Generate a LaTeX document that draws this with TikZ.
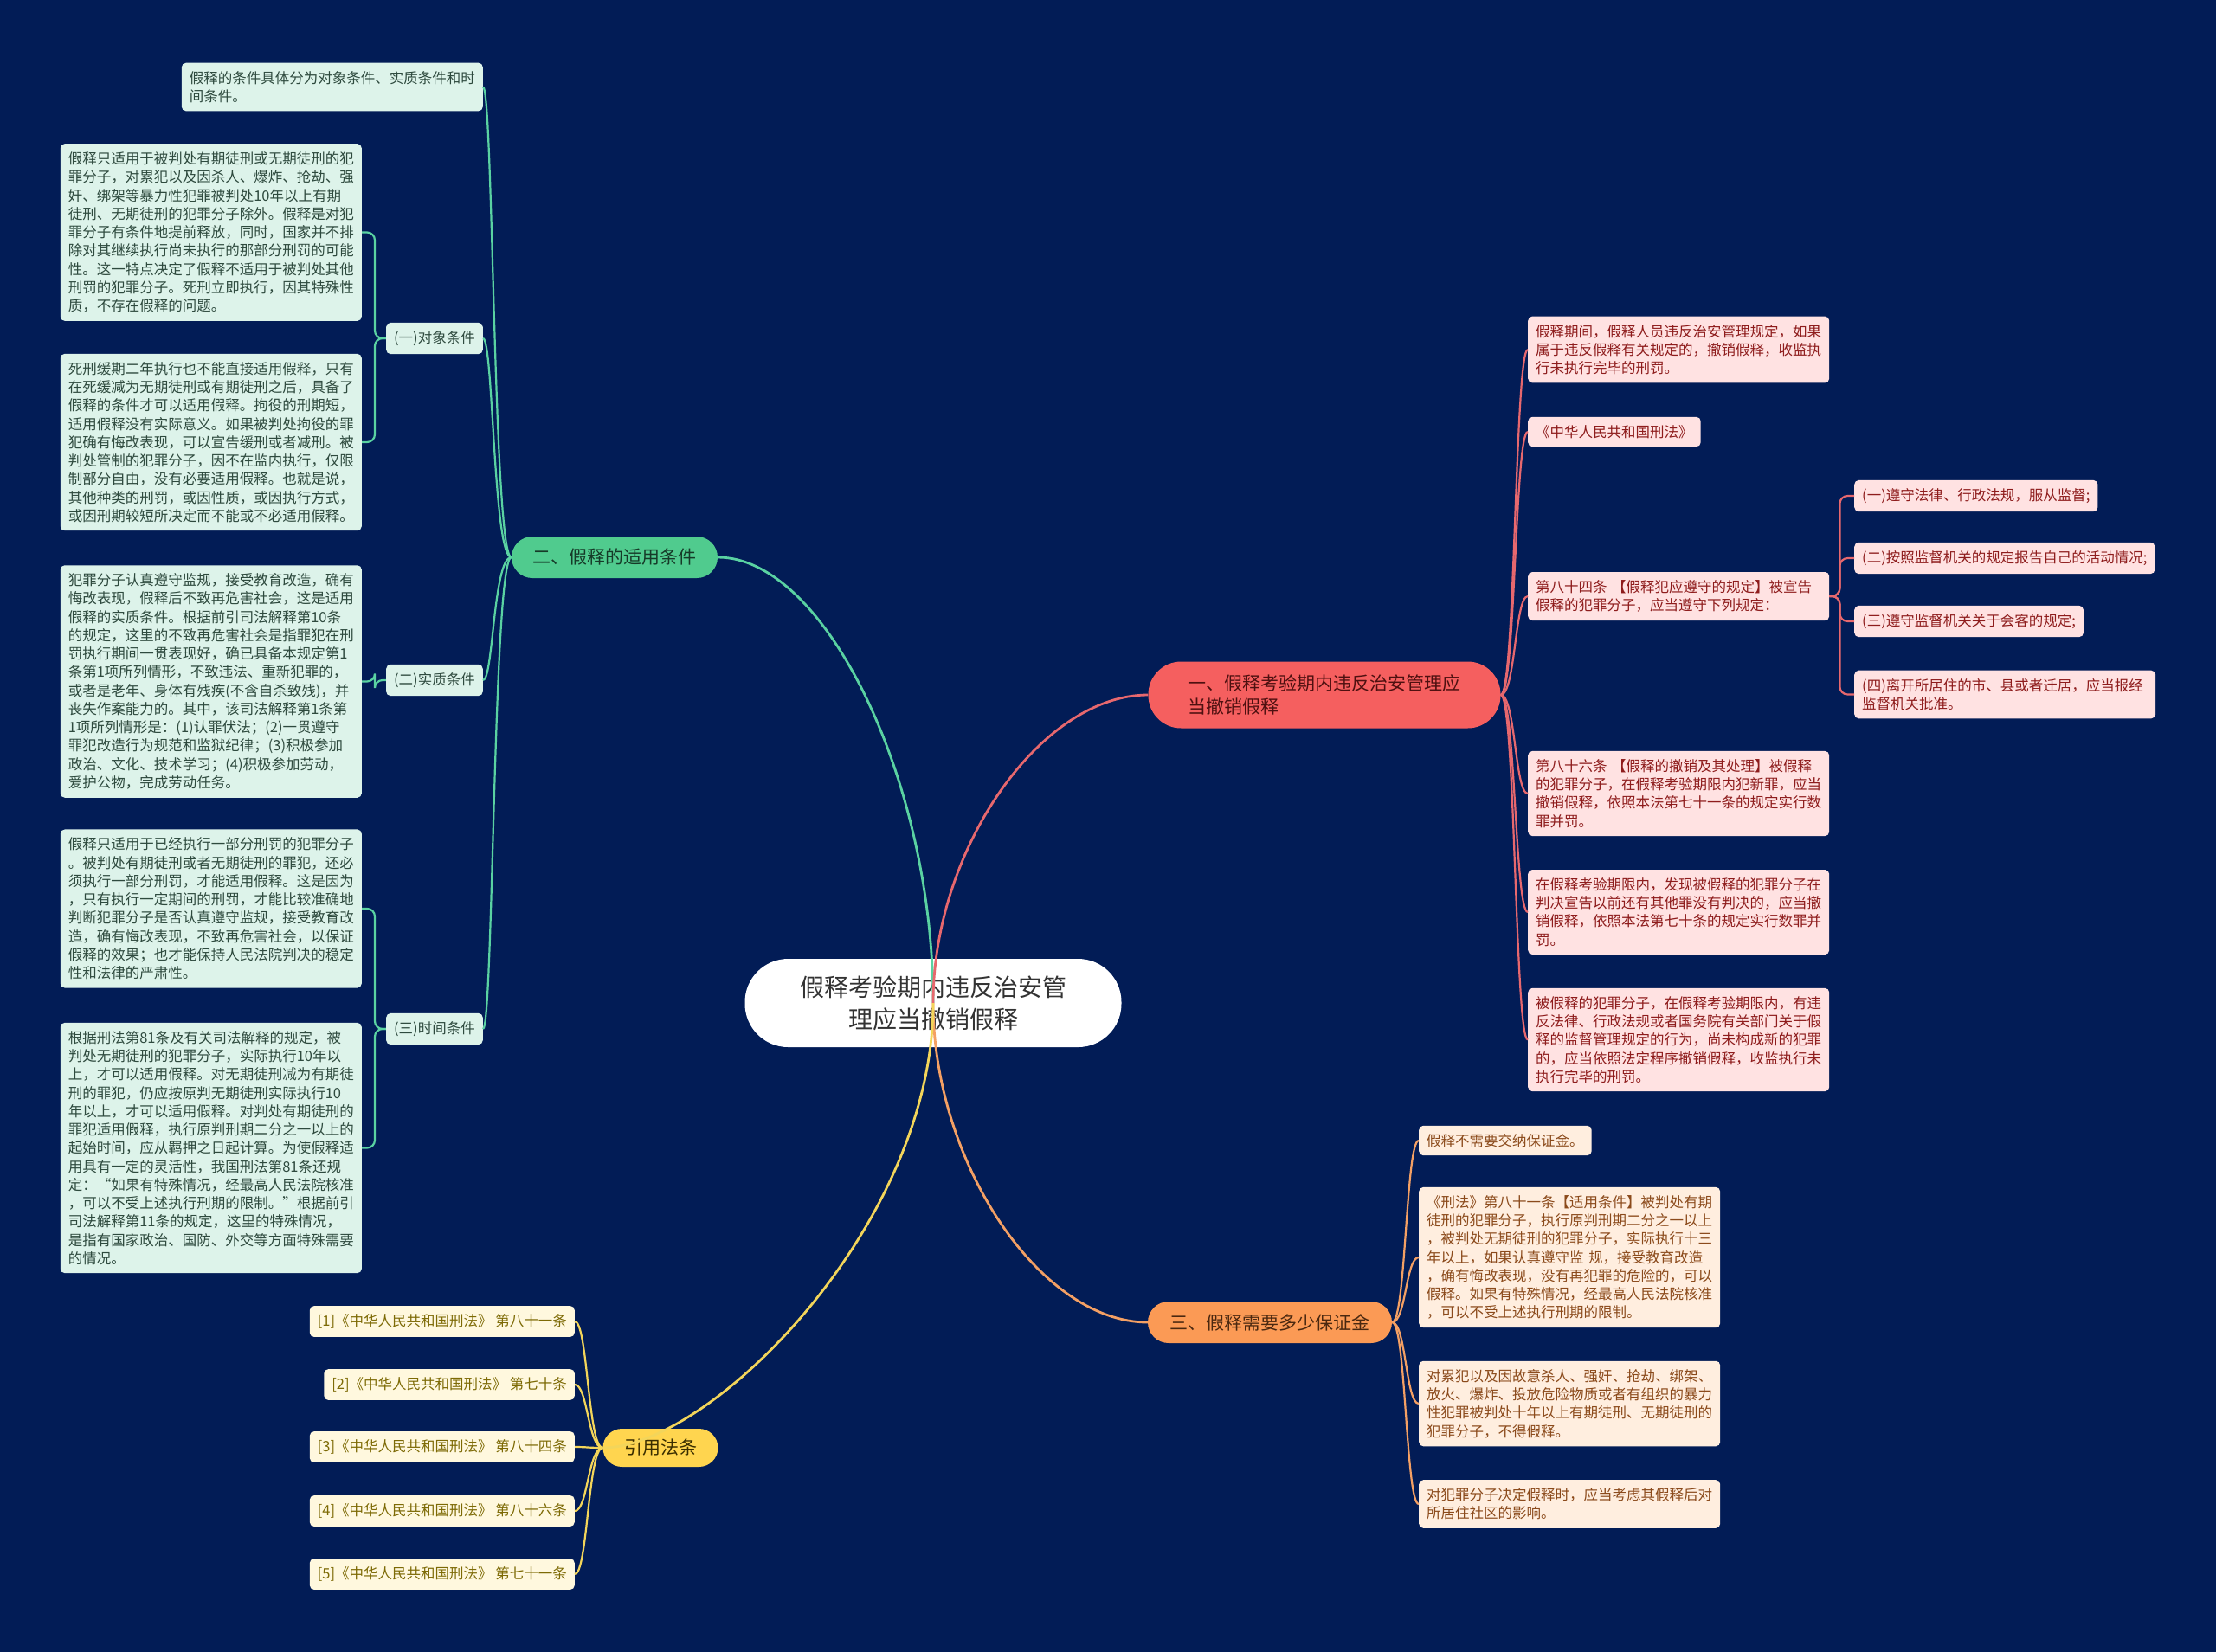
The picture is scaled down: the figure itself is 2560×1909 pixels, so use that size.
\documentclass[tikz,border=0pt]{standalone}
\usepackage{fontspec}
\setmainfont{Noto Sans CJK SC}
\definecolor{bg}{HTML}{021C56}
\definecolor{gline}{HTML}{5AD2A2}
\definecolor{gmain}{HTML}{50CB8E}
\definecolor{gmaintext}{HTML}{163A28}
\definecolor{gleafc}{HTML}{DDF3EA}
\definecolor{gtext}{HTML}{2E4A3E}
\definecolor{rline}{HTML}{E7686E}
\definecolor{rmain}{HTML}{F55F5F}
\definecolor{rmaintext}{HTML}{4E1010}
\definecolor{rleafc}{HTML}{FFE2E2}
\definecolor{rtext}{HTML}{8E1C1C}
\definecolor{oline}{HTML}{F4A064}
\definecolor{omain}{HTML}{FB9A55}
\definecolor{omaintext}{HTML}{4A2810}
\definecolor{oleafc}{HTML}{FFEEDF}
\definecolor{otext}{HTML}{8B4A1B}
\definecolor{yline}{HTML}{F3D55A}
\definecolor{ymain}{HTML}{FFD54F}
\definecolor{ymaintext}{HTML}{3A2E00}
\definecolor{yleafc}{HTML}{FFF8DE}
\definecolor{ytext}{HTML}{7D6A05}
\tikzset{
  leafbox/.style={rectangle, rounded corners=5pt, inner xsep=9pt, inner ysep=9.5pt, align=left,
    font=\fontsize{16.5}{21.25}\selectfont},
  wide/.style={text width=330pt},
  gleaf/.style={leafbox, fill=gleafc, text=gtext},
  rleaf/.style={leafbox, fill=rleafc, text=rtext},
  oleaf/.style={leafbox, fill=oleafc, text=otext},
  yleaf/.style={leafbox, fill=yleafc, text=ytext},
  mainpill/.style={rectangle, font=\fontsize{21}{27}\selectfont, inner ysep=0pt},
  rootbox/.style={rectangle, rounded corners=50pt, fill=white, text=black!80,
    minimum width=435pt, minimum height=102pt, align=center, font=\fontsize{28}{37}\selectfont},
  rootlink/.style={line width=2.8pt},
  sublink/.style={line width=2.2pt},
  elbow/.style={line width=2.2pt, rounded corners=9pt},
}
\begin{document}
\begin{tikzpicture}[x=1pt,y=-1pt]
\fill[bg] (0,0) rectangle (2560,1909);
\useasboundingbox (0,0) rectangle (2560,1909);

% root
\node[rootbox] (root) at (1078,1159) {假释考验期内违反治安管\\理应当撤销假释};

% main branches
\node[mainpill, fill=gmain, text=gmaintext, rounded corners=24pt, minimum height=48pt, minimum width=238pt] (gm) at (710,644) {二、假释的适用条件};
\node[mainpill, fill=rmain, text=rmaintext, rounded corners=38pt, minimum height=77pt, minimum width=407pt, text width=315pt, align=left] (rm) at (1530,803) {一、假释考验期内违反治安管理应\\当撤销假释};
\node[mainpill, fill=omain, text=omaintext, rounded corners=24pt, minimum height=48pt, minimum width=282pt] (om) at (1467,1528) {三、假释需要多少保证金};
\node[mainpill, fill=ymain, text=ymaintext, rounded corners=22pt, minimum height=44pt, minimum width=133pt] (ym) at (763,1673) {引用法条};

% green side
\node[gleaf, wide, anchor=east] (g0) at (558,100.5) {假释的条件具体分为对象条件、实质条件和时\\间条件。};
\node[gleaf, anchor=east] (g1) at (558,391) {(一)对象条件};
\node[gleaf, anchor=east] (g2) at (558,786) {(二)实质条件};
\node[gleaf, anchor=east] (g3) at (558,1189) {(三)时间条件};

\node[gleaf, wide, anchor=east] (a1) at (418,268.5) {假释只适用于被判处有期徒刑或无期徒刑的犯\\罪分子，对累犯以及因杀人、爆炸、抢劫、强\\奸、绑架等暴力性犯罪被判处10年以上有期\\徒刑、无期徒刑的犯罪分子除外。假释是对犯\\罪分子有条件地提前释放，同时，国家并不排\\除对其继续执行尚未执行的那部分刑罚的可能\\性。这一特点决定了假释不适用于被判处其他\\刑罚的犯罪分子。死刑立即执行，因其特殊性\\质，不存在假释的问题。};
\node[gleaf, wide, anchor=east] (a2) at (418,511) {死刑缓期二年执行也不能直接适用假释，只有\\在死缓减为无期徒刑或有期徒刑之后，具备了\\假释的条件才可以适用假释。拘役的刑期短，\\适用假释没有实际意义。如果被判处拘役的罪\\犯确有悔改表现，可以宣告缓刑或者减刑。被\\判处管制的犯罪分子，因不在监内执行，仅限\\制部分自由，没有必要适用假释。也就是说，\\其他种类的刑罚，或因性质，或因执行方式，\\或因刑期较短所决定而不能或不必适用假释。};
\node[gleaf, wide, anchor=east] (b1) at (418,787.5) {犯罪分子认真遵守监规，接受教育改造，确有\\悔改表现，假释后不致再危害社会，这是适用\\假释的实质条件。根据前引司法解释第10条\\的规定，这里的不致再危害社会是指罪犯在刑\\罚执行期间一贯表现好，确已具备本规定第1\\条第1项所列情形，不致违法、重新犯罪的，\\或者是老年、身体有残疾(不含自杀致残)，并\\丧失作案能力的。其中，该司法解释第1条第\\1项所列情形是：(1)认罪伏法；(2)一贯遵守\\罪犯改造行为规范和监狱纪律；(3)积极参加\\政治、文化、技术学习；(4)积极参加劳动，\\爱护公物，完成劳动任务。};
\node[gleaf, wide, anchor=east] (c1) at (418,1050) {假释只适用于已经执行一部分刑罚的犯罪分子\\。被判处有期徒刑或者无期徒刑的罪犯，还必\\须执行一部分刑罚，才能适用假释。这是因为\\，只有执行一定期间的刑罚，才能比较准确地\\判断犯罪分子是否认真遵守监规，接受教育改\\造，确有悔改表现，不致再危害社会，以保证\\假释的效果；也才能保持人民法院判决的稳定\\性和法律的严肃性。};
\node[gleaf, wide, anchor=east] (c2) at (418,1326.5) {根据刑法第81条及有关司法解释的规定，被\\判处无期徒刑的犯罪分子，实际执行10年以\\上，才可以适用假释。对无期徒刑减为有期徒\\刑的罪犯，仍应按原判无期徒刑实际执行10\\年以上，才可以适用假释。对判处有期徒刑的\\罪犯适用假释，执行原判刑期二分之一以上的\\起始时间，应从羁押之日起计算。为使假释适\\用具有一定的灵活性，我国刑法第81条还规\\定：“如果有特殊情况，经最高人民法院核准\\，可以不受上述执行刑期的限制。”根据前引\\司法解释第11条的规定，这里的特殊情况，\\是指有国家政治、国防、外交等方面特殊需要\\的情况。};

% red side
\node[rleaf, wide, anchor=west] (r1) at (1765,404) {假释期间，假释人员违反治安管理规定，如果\\属于违反假释有关规定的，撤销假释，收监执\\行未执行完毕的刑罚。};
\node[rleaf, anchor=west] (r2) at (1765,499) {《中华人民共和国刑法》};
\node[rleaf, wide, anchor=west] (r3) at (1765,689) {第八十四条 【假释犯应遵守的规定】被宣告\\假释的犯罪分子，应当遵守下列规定：};
\node[rleaf, wide, anchor=west] (r4) at (1765,917) {第八十六条 【假释的撤销及其处理】被假释\\的犯罪分子，在假释考验期限内犯新罪，应当\\撤销假释，依照本法第七十一条的规定实行数\\罪并罚。};
\node[rleaf, wide, anchor=west] (r5) at (1765,1054) {在假释考验期限内，发现被假释的犯罪分子在\\判决宣告以前还有其他罪没有判决的，应当撤\\销假释，依照本法第七十条的规定实行数罪并\\罚。};
\node[rleaf, wide, anchor=west] (r6) at (1765,1201.5) {被假释的犯罪分子，在假释考验期限内，有违\\反法律、行政法规或者国务院有关部门关于假\\释的监督管理规定的行为，尚未构成新的犯罪\\的，应当依照法定程序撤销假释，收监执行未\\执行完毕的刑罚。};

\node[rleaf, anchor=west] (s1) at (2142,573) {(一)遵守法律、行政法规，服从监督;};
\node[rleaf, anchor=west] (s2) at (2142,645) {(二)按照监督机关的规定报告自己的活动情况;};
\node[rleaf, anchor=west] (s3) at (2142,718) {(三)遵守监督机关关于会客的规定;};
\node[rleaf, wide, anchor=west] (s4) at (2142,802.5) {(四)离开所居住的市、县或者迁居，应当报经\\监督机关批准。};

% orange side
\node[oleaf, anchor=west] (o1) at (1639,1318) {假释不需要交纳保证金。};
\node[oleaf, wide, anchor=west] (o2) at (1639,1453) {《刑法》第八十一条【适用条件】被判处有期\\徒刑的犯罪分子，执行原判刑期二分之一以上\\，被判处无期徒刑的犯罪分子，实际执行十三\\年以上，如果认真遵守监 规，接受教育改造\\，确有悔改表现，没有再犯罪的危险的，可以\\假释。如果有特殊情况，经最高人民法院核准\\，可以不受上述执行刑期的限制。};
\node[oleaf, wide, anchor=west] (o3) at (1639,1622) {对累犯以及因故意杀人、强奸、抢劫、绑架、\\放火、爆炸、投放危险物质或者有组织的暴力\\性犯罪被判处十年以上有期徒刑、无期徒刑的\\犯罪分子，不得假释。};
\node[oleaf, wide, anchor=west] (o4) at (1639,1738) {对犯罪分子决定假释时，应当考虑其假释后对\\所居住社区的影响。};

% yellow side
\node[yleaf, anchor=east] (y1) at (664,1527) {[1]《中华人民共和国刑法》 第八十一条};
\node[yleaf, anchor=east] (y2) at (664,1600) {[2]《中华人民共和国刑法》 第七十条};
\node[yleaf, anchor=east] (y3) at (664,1672) {[3]《中华人民共和国刑法》 第八十四条};
\node[yleaf, anchor=east] (y4) at (664,1746) {[4]《中华人民共和国刑法》 第八十六条};
\node[yleaf, anchor=east] (y5) at (664,1819) {[5]《中华人民共和国刑法》 第七十一条};

% root links
\draw[rootlink, gline] (root.center) .. controls +(0,-257) and +(124,0) .. (gm.east);
\draw[rootlink, rline] (root.center) .. controls +(0,-178) and +(-124,0) .. (rm.west);
\draw[rootlink, oline] (root.center) .. controls +(0,184) and +(-124,0) .. (om.west);
\draw[rootlink, yline] (root.center) .. controls +(0,257) and +(124,0) .. (ym.west);

% green level 2
\foreach \n in {g0,g1,g2,g3}
  \draw[sublink, gline] (gm.west) .. controls +(-21,0) and +(12,0) .. (\n.east);
% green level 3
\foreach \a/\p in {a1/g1,a2/g1,b1/g2,c1/g3,c2/g3}
  \draw[elbow, gline] (\a.east) -- ++(15,0) |- (\p.west);

% red level 2
\foreach \n in {r1,r2,r3,r4,r5,r6}
  \draw[sublink, rline] (rm.east) .. controls +(17,0) and +(-15,0) .. (\n.west);
% red level 3
\foreach \n in {s1,s2,s3,s4}
  \draw[elbow, rline] (r3.east) -- ++(12,0) |- (\n.west);

% orange level 2
\foreach \n in {o1,o2,o3,o4}
  \draw[sublink, oline] (om.east) .. controls +(16,0) and +(-15,0) .. (\n.west);

% yellow level 2
\foreach \n in {y1,y2,y3,y4,y5}
  \draw[sublink, yline] (ym.west) .. controls +(-17,0) and +(15,0) .. (\n.east);
\end{tikzpicture}
\end{document}
